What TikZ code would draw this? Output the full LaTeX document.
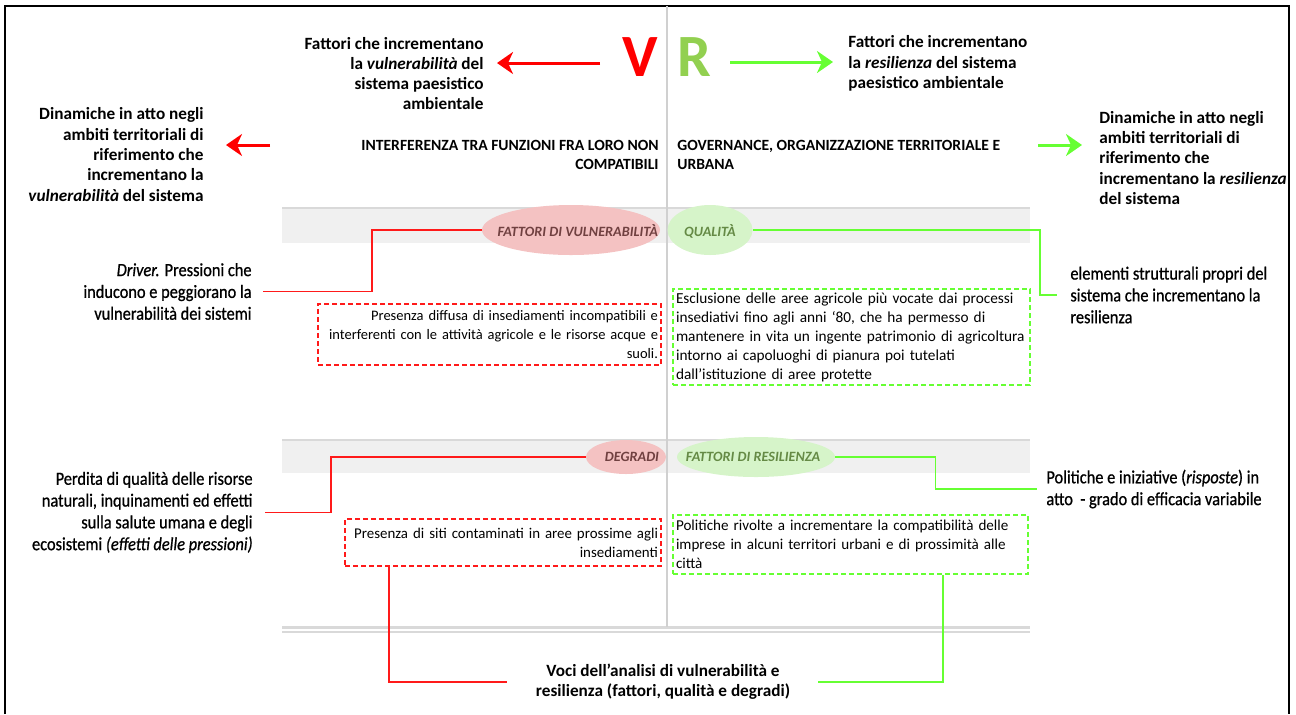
\documentclass[tikz,border=0pt]{standalone}
\usepackage{fontspec}
\setmainfont{Carlito}
\newfontfamily\condfont{Carlito}[FakeStretch=0.88,FakeBold=0.8]
\usetikzlibrary{shapes.geometric,arrows.meta}
\definecolor{vred}{HTML}{FF0000}
\definecolor{rgreen}{HTML}{92D050}
\definecolor{lgreen}{HTML}{66FF33}
\definecolor{lred}{HTML}{FF1A1A}
\definecolor{pinkfill}{HTML}{F4C2C2}
\definecolor{greenfill}{HTML}{D6F4C9}
\definecolor{bandfill}{HTML}{F0F0F0}
\definecolor{bandline}{HTML}{D9D9D9}
\definecolor{divgray}{HTML}{D0D0D0}
\definecolor{redlabel}{HTML}{704040}
\definecolor{greenlabel}{HTML}{658A45}
\tikzset{
  lbl/.style={font=\fontsize{8.6}{10.15}\selectfont\bfseries, inner sep=0pt},
  toplbl/.style={font=\fontsize{8.6}{10.15}\selectfont\bfseries, inner sep=0pt},
  caps/.style={font=\fontsize{7.8}{9.5}\selectfont\bfseries, inner sep=0pt},
  cond/.style={font=\condfont\fontsize{9.3}{10.9}\selectfont, inner sep=0pt},
  big/.style={font=\fontsize{30}{30}\selectfont\bfseries, inner sep=0pt},
  ell/.style={ellipse, inner sep=0pt, draw=none},
  elltxt/.style={font=\fontsize{7.1}{8}\selectfont\bfseries\itshape, inner sep=0pt},
  boxbase/.style={rectangle, dashed, dash pattern=on 2.5pt off 1.5pt, line width=1pt,
     inner xsep=1.5pt, inner ysep=1pt},
  redbox/.style={boxbase, draw=lred, align=right},
  greenbox/.style={boxbase, draw=lgreen, align=left},
  redcon/.style={draw=lred, line width=0.9pt},
  greencon/.style={draw=lgreen, line width=0.9pt},
  bigarrow/.style={line width=1.5pt, -{Stealth[length=8pt,width=11pt,inset=2.5pt]}},
  band/.style={fill=bandfill, draw=none},
  bandedge/.style={draw=bandline, line width=1pt},
}
\begin{document}
\begin{tikzpicture}[x=0.5pt,y=-0.5pt]
\useasboundingbox (0,0) rectangle (1296,714);
% frame
\draw[line width=1pt] (5,714) -- (5,6) -- (1289,6) -- (1289,714);
% bands
\path[band] (282,209) rectangle (1030,243);
\draw[bandedge] (282,208) -- (1030,208);
\path[band] (282,441) rectangle (1030,473);
\draw[bandedge] (282,440) -- (1030,440);
\draw[draw=bandline, line width=1.5pt] (282,627) -- (1030,627);
\draw[draw=bandline, line width=1pt] (282,632) -- (1030,632);
% divider
\draw[draw=divgray, line width=1.2pt] (667,6) -- (667,627);

% V and R
\node[big, text=vred] (V) at (640,57) {V};
\node[big, text=rgreen] (R) at (694,57) {R};

% top texts
\node[toplbl, align=right, anchor=east] (tl) at (484,73.5) {Fattori che incrementano\\ la \textit{vulnerabilità} del\\ sistema paesistico\\ ambientale};
\node[toplbl, align=left, anchor=west] (tr) at (848,63.5) {Fattori che incrementano\\ la \textit{resilienza} del sistema\\ paesistico ambientale};
\coordinate (a1s) at (600,63);
\coordinate (a1e) at (497,63);
\draw[bigarrow, vred] (a1s) -- (a1e);
\coordinate (a2s) at (730,62);
\coordinate (a2e) at (833,62);
\draw[bigarrow, lgreen] (a2s) -- (a2e);

% dynamics
\node[lbl, align=right, anchor=east] (dl) at (204,154.5) {Dinamiche in atto negli\\ ambiti territoriali di\\ riferimento che\\ incrementano la\\ \textit{vulnerabilità} del sistema};
\node[lbl, align=left, anchor=west] (dr) at (1099,158) {Dinamiche in atto negli\\ ambiti territoriali di\\ riferimento che\\ incrementano la \textit{resilienza}\\ del sistema};
\coordinate (a3s) at (270,145);
\coordinate (a3e) at (226,145);
\draw[bigarrow, vred] (a3s) -- (a3e);
\coordinate (a4s) at (1038,145);
\coordinate (a4e) at (1082,145);
\draw[bigarrow, lgreen] (a4s) -- (a4e);

% headers
\node[caps, align=right, anchor=east] (int) at (659,154.5) {INTERFERENZA TRA FUNZIONI FRA LORO NON\\ COMPATIBILI};
\node[caps, align=left, anchor=west] (gov) at (677,154.5) {GOVERNANCE, ORGANIZZAZIONE TERRITORIALE E\\ URBANA};

% ellipses
\node[ell, fill=pinkfill, minimum width=89pt, minimum height=25pt] (fdv) at (571,230) {};
\node[elltxt, text=redlabel, anchor=east] (fdvt) at ([xshift=-1pt,yshift=-0.5pt]fdv.east) {FATTORI DI VULNERABILITÀ};
\node[ell, fill=greenfill, minimum width=42.5pt, minimum height=25pt] (qual) at (710,230) {};
\node[elltxt, text=greenlabel] (qualt) at ([yshift=-0.5pt]qual.center) {QUALITÀ};
\node[ell, fill=pinkfill, minimum width=40pt, minimum height=17pt] (deg) at (626,457) {};
\node[elltxt, text=redlabel] (degt) at ([xshift=3pt]deg.center) {DEGRADI};
\node[ell, fill=greenfill, minimum width=79pt, minimum height=20pt] (fdr) at (756,457) {};
\node[elltxt, text=greenlabel] (fdrt) at ([xshift=-1.5pt]fdr.center) {FATTORI DI RESILIENZA};

% side labels
\node[cond, align=right, anchor=east] (driver) at (252,291.5) {\textit{Driver.} Pressioni che\\ inducono e peggiorano la\\ vulnerabilità dei sistemi};
\node[cond, align=right, anchor=east] (perd) at (253,512.5) {Perdita di qualità delle risorse\\ naturali, inquinamenti ed effetti\\ sulla salute umana e degli\\ ecosistemi \textit{(effetti delle pressioni)}};
\node[cond, align=left, anchor=west] (elem) at (1070,295) {elementi strutturali propri del\\ sistema che incrementano la\\ resilienza};
\node[cond, align=left, anchor=west] (pol) at (1046,489) {Politiche e iniziative (\textit{risposte}) in\\ atto\ \ - grado di efficacia variabile};
\node[lbl, align=center] (voci) at (663,682) {Voci dell’analisi di vulnerabilità e\\ resilienza (fattori, qualità e degradi)};

% boxes
\node[redbox, font=\fontsize{7.25}{9.4}\selectfont, minimum width=171.5pt, minimum height=30.5pt, text width=168.5pt] (rb1) at (489.5,334.5) {Presenza diffusa di insediamenti incompatibili e\\ interferenti con le attività agricole e le risorse acque e\\ suoli.};
\node[greenbox, font=\fontsize{7.65}{9.5}\selectfont, minimum width=178.5pt, minimum height=48pt, text width=175.5pt] (gb1) at (851.5,337) {Esclusione delle aree agricole più vocate dai processi\\ insediativi fino agli anni ‘80, che ha permesso di\\ mantenere in vita un ingente patrimonio di agricoltura\\ intorno ai capoluoghi di pianura poi tutelati\\ dall’istituzione di aree protette};
\node[redbox, font=\fontsize{7.45}{9.4}\selectfont, minimum width=158pt, minimum height=23.5pt, text width=155pt] (rb2) at (503,542.5) {Presenza di siti contaminati in aree prossime agli\\ insediamenti};
\node[greenbox, font=\fontsize{7.55}{9.5}\selectfont, minimum width=177.5pt, minimum height=29.5pt, text width=174.5pt] (gb2) at (850.5,544.5) {Politiche rivolte a incrementare la compatibilità delle\\ imprese in alcuni territori urbani e di prossimità alle\\ città};

% connectors
\draw[redcon] (fdv.west) -- ++(-110,0) |- ([xshift=5.5pt]driver.east);
\draw[greencon] (qual.east) -- ++(287,0) |- ([xshift=-6.5pt]elem.west);
\draw[redcon] (deg.west) -- ++(-255,0) |- ([xshift=6pt]perd.east);
\draw[greencon] (fdr.east) -- ++(100,0) |- ([xshift=-4.5pt]pol.west);
\draw[redcon] ([xshift=22.5pt]rb2.south west) |- ([xshift=-14.5pt]voci.west);
\draw[greencon] ([xshift=135.5pt]gb2.south west) |- ([xshift=14pt]voci.east);
\end{tikzpicture}
\end{document}
